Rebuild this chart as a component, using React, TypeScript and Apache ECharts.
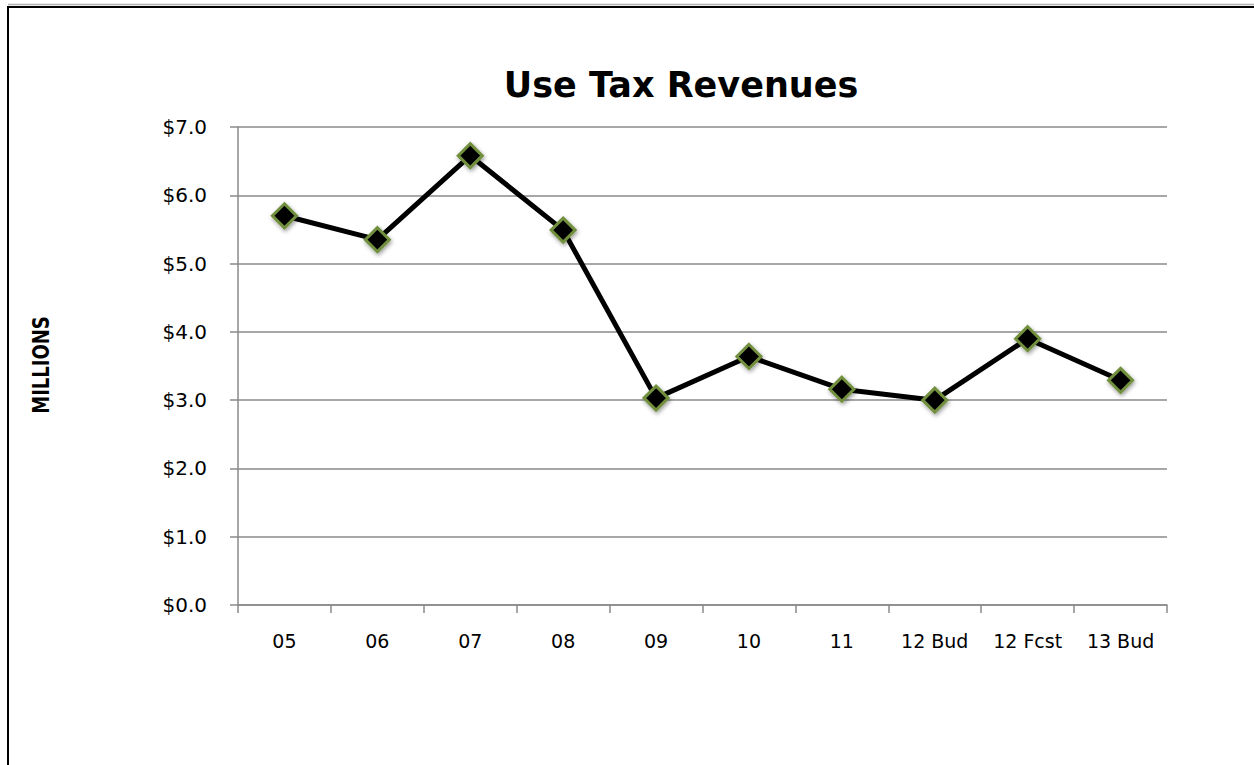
import React, { useEffect, useRef } from "react";
import * as echarts from "echarts";

const categories = ["05", "06", "07", "08", "09", "10", "11", "12 Bud", "12 Fcst", "13 Bud"];
const revenues = [5.7, 5.35, 6.58, 5.49, 3.03, 3.64, 3.16, 3.0, 3.9, 3.29];
const yTicks = { min: 0, max: 7, interval: 1 };
const titleText = "Use Tax Revenues";
const yAxisName = "MILLIONS";

const FONT = "'DejaVu Sans', sans-serif";

export default function App() {
  const ref = useRef<HTMLDivElement>(null);
  useEffect(() => {
    if (!ref.current) return;
    const chart = echarts.init(ref.current, null, { renderer: "svg" });
    chart.setOption({
      animation: false,
      backgroundColor: "#ffffff",
      title: {
        text: titleText,
        left: 676,
        top: 62,
        textAlign: "center",
        textStyle: { fontFamily: FONT, fontSize: 35, fontWeight: "bold", color: "#000" },
      },
      grid: { left: 238, right: 87, top: 127, bottom: 160, containLabel: false },
      xAxis: {
        type: "category",
        data: categories,
        boundaryGap: true,
        axisLine: { lineStyle: { color: "#8a8a8a", width: 1.5 } },
        axisTick: { show: true, length: 8, interval: 0, lineStyle: { color: "#8a8a8a", width: 1.5 } },
        axisLabel: { interval: 0, margin: 26, fontFamily: FONT, fontSize: 19, color: "#000" },
      },
      yAxis: {
        type: "value",
        min: yTicks.min,
        max: yTicks.max,
        interval: yTicks.interval,
        axisLine: { show: true, lineStyle: { color: "#8a8a8a", width: 1.5 } },
        axisTick: { show: true, length: 8, lineStyle: { color: "#8a8a8a", width: 1.5 } },
        splitLine: { show: true, lineStyle: { color: "#8a8a8a", width: 1.5 } },
        axisLabel: {
          margin: 31,
          fontFamily: FONT,
          fontSize: 20,
          color: "#000",
          formatter: (v: number) => "$" + v.toFixed(1),
        },
      },
      graphic: [
        {
          type: "line",
          shape: { x1: 8, y1: 4.5, x2: 1254, y2: 4.5 },
          style: { stroke: "#b0b0b0", lineWidth: 1.5 },
          silent: true,
        },
        {
          type: "rect",
          shape: { x: 8, y: 7, width: 1400, height: 900 },
          style: { fill: "none", stroke: "#000", lineWidth: 2 },
          silent: true,
        },
        {
          type: "text",
          x: 41,
          y: 365,
          rotation: Math.PI / 2,
          scaleY: 1.25,
          style: {
            text: yAxisName,
            fontFamily: FONT,
            fontSize: 18,
            fontWeight: "bold",
            fill: "#000",
            align: "center",
            verticalAlign: "middle",
          },
          silent: true,
        },
      ],
      series: [
        {
          type: "line",
          data: revenues,
          symbol: "diamond",
          symbolSize: 24,
          lineStyle: { color: "#000", width: 5 },
          itemStyle: {
            color: "#000",
            borderColor: "#718f3e",
            borderWidth: 3,
            shadowColor: "rgba(0,0,0,0.4)",
            shadowBlur: 4,
            shadowOffsetX: 1,
            shadowOffsetY: 2,
          },
          z: 3,
        },
      ],
    });
    return () => chart.dispose();
  }, []);
  return (
    <div
      ref={ref}
      style={{ position: "fixed", left: 0, top: 0, width: 1254, height: 765, background: "#fff" }}
    />
  );
}
